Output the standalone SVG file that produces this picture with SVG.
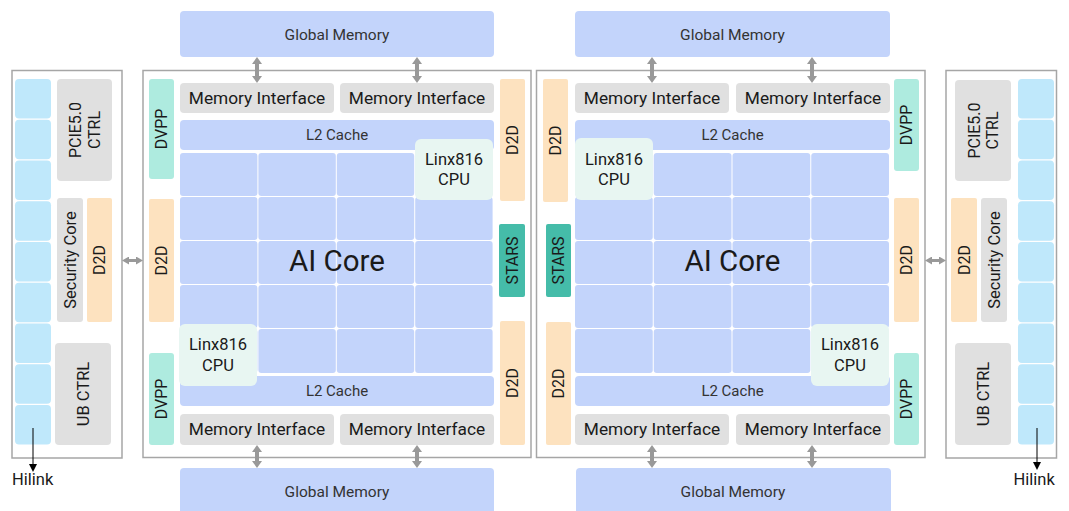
<svg xmlns="http://www.w3.org/2000/svg" width="1069" height="511" viewBox="0 0 1069 511">
  <defs>
    <style>
      text { font-family: Roboto, "Noto Sans", "DejaVu Sans", sans-serif; fill: #1a1a1a; text-anchor: middle; }
      .die { fill: #ffffff; stroke: #a6a6a6; stroke-width: 1.5; }
      .blue { fill: #c3d4fb; }
      .gray { fill: #e0e0e0; }
      .dvpp { fill: #aeebdf; }
      .d2d { fill: #fde2bf; }
      .stars { fill: #45bca9; }
      .cpu { fill: #e8f6f2; }
      .hl { fill: #bfe8fb; }
      .t-gm { font-size: 15.5px; fill: #333333; }
      .t-l2 { font-size: 15px; fill: #333333; }
      .t-mi { font-size: 17.3px; }
      .t-cpu { font-size: 16.5px; }
      .t-ai { font-size: 29.5px; }
      .t-v { font-size: 16px; }
      .t-io { font-size: 16.5px; }
      .t-hl { font-size: 16.5px; text-anchor: start; }
      .bus { stroke: #999999; stroke-width: 4; fill: none; marker-start: url(#busHead); marker-end: url(#busHead); }
      .bus-s { stroke: #999999; stroke-width: 3; fill: none; marker-start: url(#busHeadS); marker-end: url(#busHeadS); }
      .link { stroke: #000000; stroke-width: 1; fill: none; marker-end: url(#linkHead); }
    </style>
    <marker id="busHead" markerUnits="userSpaceOnUse" markerWidth="7" markerHeight="10" viewBox="0 0 7 10" refX="0" refY="5" orient="auto-start-reverse">
      <path d="M0,0 L7,5 L0,10 z" fill="#999999"/>
    </marker>
    <marker id="busHeadS" markerUnits="userSpaceOnUse" markerWidth="7" markerHeight="8" viewBox="0 0 7 8" refX="0" refY="4" orient="auto-start-reverse">
      <path d="M0,0 L7,4 L0,8 z" fill="#999999"/>
    </marker>
    <marker id="linkHead" markerUnits="userSpaceOnUse" markerWidth="8" markerHeight="8" viewBox="0 0 8 8" refX="0" refY="4" orient="auto">
      <path d="M0,0 L8,4 L0,8 z" fill="#000000"/>
    </marker>
  </defs>

  <!-- ===== Left IO die ===== -->
  <g id="io-left">
    <rect class="die" x="12" y="70.5" width="110" height="387.5"/>
    <g id="io-left-hilink">
      <rect class="hl" x="15" y="79" width="36" height="39.5" rx="4"/>
      <rect class="hl" x="15" y="119.75" width="36" height="39.5" rx="4"/>
      <rect class="hl" x="15" y="160.5" width="36" height="39.5" rx="4"/>
      <rect class="hl" x="15" y="201.25" width="36" height="39.5" rx="4"/>
      <rect class="hl" x="15" y="242" width="36" height="39.5" rx="4"/>
      <rect class="hl" x="15" y="282.75" width="36" height="39.5" rx="4"/>
      <rect class="hl" x="15" y="323.5" width="36" height="39.5" rx="4"/>
      <rect class="hl" x="15" y="364.25" width="36" height="39.5" rx="4"/>
      <rect class="hl" x="15" y="405" width="36" height="39.5" rx="4"/>
    </g>
    <g id="io-left-pcie">
      <rect class="gray" x="57" y="79" width="55" height="102" rx="4"/>
      <text class="t-v" transform="translate(84.5,130) rotate(-90)" y="-3.5">PCIE5.0</text>
      <text class="t-v" transform="translate(84.5,130) rotate(-90)" y="15">CTRL</text>
    </g>
    <g id="io-left-security">
      <rect class="gray" x="57" y="198" width="26" height="124" rx="3"/>
      <text class="t-io" transform="translate(70,260) rotate(-90)" y="5.5">Security Core</text>
    </g>
    <g id="io-left-d2d">
      <rect class="d2d" x="87" y="198" width="25" height="124" rx="2"/>
      <text class="t-v" transform="translate(99.5,260) rotate(-90)" y="5.7">D2D</text>
    </g>
    <g id="io-left-ub">
      <rect class="gray" x="55" y="343" width="56" height="102" rx="4"/>
      <text class="t-io" transform="translate(83,394) rotate(-90)" y="5.9">UB CTRL</text>
    </g>
    <text class="t-hl" x="12" y="485">Hilink</text>
  </g>

  <!-- ===== Left compute die ===== -->
  <g id="die-left">
    <rect class="die" x="143" y="70.5" width="388" height="387"/>
  </g>
  <g id="gm-left-top">
    <rect class="blue" x="180" y="11" width="314" height="46" rx="4"/>
    <text class="t-gm" x="337" y="39.5">Global Memory</text>
  </g>
  <g id="gm-left-bottom">
    <rect class="blue" x="180" y="468" width="314" height="48" rx="4"/>
    <text class="t-gm" x="337" y="496.5">Global Memory</text>
  </g>
  <g id="mi-left-top-1">
    <rect class="gray" x="180" y="83" width="154" height="30" rx="4"/>
    <text class="t-mi" x="257" y="104.3">Memory Interface</text>
  </g>
  <g id="mi-left-top-2">
    <rect class="gray" x="340" y="83" width="154" height="30" rx="4"/>
    <text class="t-mi" x="417" y="104.3">Memory Interface</text>
  </g>
  <g id="l2-left-top">
    <rect class="blue" x="180" y="120" width="314" height="30" rx="4"/>
    <text class="t-l2" x="337" y="140.3">L2 Cache</text>
  </g>
  <g id="aicore-left">
    <rect class="blue" x="180" y="153" width="77.4" height="43" rx="3"/>
    <rect class="blue" x="258.4" y="153" width="77.4" height="43" rx="3"/>
    <rect class="blue" x="336.8" y="153" width="77.4" height="43" rx="3"/>
    <rect class="blue" x="415.2" y="153" width="77.4" height="43" rx="3"/>
    <rect class="blue" x="180" y="197" width="77.4" height="43" rx="3"/>
    <rect class="blue" x="258.4" y="197" width="77.4" height="43" rx="3"/>
    <rect class="blue" x="336.8" y="197" width="77.4" height="43" rx="3"/>
    <rect class="blue" x="415.2" y="197" width="77.4" height="43" rx="3"/>
    <rect class="blue" x="180" y="241" width="77.4" height="43" rx="3"/>
    <rect class="blue" x="258.4" y="241" width="77.4" height="43" rx="3"/>
    <rect class="blue" x="336.8" y="241" width="77.4" height="43" rx="3"/>
    <rect class="blue" x="415.2" y="241" width="77.4" height="43" rx="3"/>
    <rect class="blue" x="180" y="285" width="77.4" height="43" rx="3"/>
    <rect class="blue" x="258.4" y="285" width="77.4" height="43" rx="3"/>
    <rect class="blue" x="336.8" y="285" width="77.4" height="43" rx="3"/>
    <rect class="blue" x="415.2" y="285" width="77.4" height="43" rx="3"/>
    <rect class="blue" x="180" y="329" width="77.4" height="44" rx="3"/>
    <rect class="blue" x="258.4" y="329" width="77.4" height="44" rx="3"/>
    <rect class="blue" x="336.8" y="329" width="77.4" height="44" rx="3"/>
    <rect class="blue" x="415.2" y="329" width="77.4" height="44" rx="3"/>
    <text class="t-ai" x="337" y="271">AI Core</text>
  </g>
  <g id="l2-left-bottom">
    <rect class="blue" x="180" y="376" width="314" height="30" rx="4"/>
    <text class="t-l2" x="337" y="396.3">L2 Cache</text>
  </g>
  <g id="mi-left-bottom-1">
    <rect class="gray" x="180" y="414" width="154" height="31" rx="4"/>
    <text class="t-mi" x="257" y="435.3">Memory Interface</text>
  </g>
  <g id="mi-left-bottom-2">
    <rect class="gray" x="340" y="414" width="154" height="31" rx="4"/>
    <text class="t-mi" x="417" y="435.3">Memory Interface</text>
  </g>
  <g id="cpu-left-top">
    <rect class="cpu" x="415" y="139" width="78" height="61" rx="6"/>
    <text class="t-cpu" x="454" y="165">Linx816</text>
    <text class="t-cpu" x="454" y="185">CPU</text>
  </g>
  <g id="cpu-left-bottom">
    <rect class="cpu" x="179" y="324" width="78" height="62" rx="6"/>
    <text class="t-cpu" x="218" y="350">Linx816</text>
    <text class="t-cpu" x="218" y="370.5">CPU</text>
  </g>
  <g id="dvpp-left-top">
    <rect class="dvpp" x="149" y="79" width="25" height="100" rx="3"/>
    <text class="t-v" transform="translate(161.5,129) rotate(-90)" y="5.7">DVPP</text>
  </g>
  <g id="d2d-left-west">
    <rect class="d2d" x="149" y="199" width="25" height="123" rx="2"/>
    <text class="t-v" transform="translate(161.5,260.5) rotate(-90)" y="5.7">D2D</text>
  </g>
  <g id="dvpp-left-bottom">
    <rect class="dvpp" x="149" y="353" width="25" height="92" rx="3"/>
    <text class="t-v" transform="translate(161.5,399) rotate(-90)" y="5.7">DVPP</text>
  </g>
  <g id="d2d-left-east-top">
    <rect class="d2d" x="500" y="79" width="25" height="122" rx="2"/>
    <text class="t-v" transform="translate(512.5,140) rotate(-90)" y="5.7">D2D</text>
  </g>
  <g id="stars-left">
    <rect class="stars" x="499" y="224" width="26" height="73" rx="2"/>
    <text class="t-v" transform="translate(512,260.5) rotate(-90)" y="5.7">STARS</text>
  </g>
  <g id="d2d-left-east-bottom">
    <rect class="d2d" x="500" y="321" width="25" height="124" rx="2"/>
    <text class="t-v" transform="translate(512.5,383) rotate(-90)" y="5.7">D2D</text>
  </g>

  <!-- ===== Right compute die ===== -->
  <g id="die-right">
    <rect class="die" x="536.5" y="70.5" width="388.5" height="387"/>
  </g>
  <g id="gm-right-top">
    <rect class="blue" x="575" y="11" width="315" height="46" rx="4"/>
    <text class="t-gm" x="732.5" y="39.5">Global Memory</text>
  </g>
  <g id="gm-right-bottom">
    <rect class="blue" x="576" y="468" width="315" height="48" rx="4"/>
    <text class="t-gm" x="733" y="496.5">Global Memory</text>
  </g>
  <g id="mi-right-top-1">
    <rect class="gray" x="575" y="83" width="154" height="30" rx="4"/>
    <text class="t-mi" x="652" y="104.3">Memory Interface</text>
  </g>
  <g id="mi-right-top-2">
    <rect class="gray" x="736" y="83" width="154" height="30" rx="4"/>
    <text class="t-mi" x="813" y="104.3">Memory Interface</text>
  </g>
  <g id="l2-right-top">
    <rect class="blue" x="575" y="120" width="315" height="30" rx="4"/>
    <text class="t-l2" x="732.5" y="140.3">L2 Cache</text>
  </g>
  <g id="aicore-right">
    <rect class="blue" x="575" y="153" width="77.75" height="43" rx="3"/>
    <rect class="blue" x="653.75" y="153" width="77.75" height="43" rx="3"/>
    <rect class="blue" x="732.5" y="153" width="77.75" height="43" rx="3"/>
    <rect class="blue" x="811.25" y="153" width="77.75" height="43" rx="3"/>
    <rect class="blue" x="575" y="197" width="77.75" height="43" rx="3"/>
    <rect class="blue" x="653.75" y="197" width="77.75" height="43" rx="3"/>
    <rect class="blue" x="732.5" y="197" width="77.75" height="43" rx="3"/>
    <rect class="blue" x="811.25" y="197" width="77.75" height="43" rx="3"/>
    <rect class="blue" x="575" y="241" width="77.75" height="43" rx="3"/>
    <rect class="blue" x="653.75" y="241" width="77.75" height="43" rx="3"/>
    <rect class="blue" x="732.5" y="241" width="77.75" height="43" rx="3"/>
    <rect class="blue" x="811.25" y="241" width="77.75" height="43" rx="3"/>
    <rect class="blue" x="575" y="285" width="77.75" height="43" rx="3"/>
    <rect class="blue" x="653.75" y="285" width="77.75" height="43" rx="3"/>
    <rect class="blue" x="732.5" y="285" width="77.75" height="43" rx="3"/>
    <rect class="blue" x="811.25" y="285" width="77.75" height="43" rx="3"/>
    <rect class="blue" x="575" y="329" width="77.75" height="44" rx="3"/>
    <rect class="blue" x="653.75" y="329" width="77.75" height="44" rx="3"/>
    <rect class="blue" x="732.5" y="329" width="77.75" height="44" rx="3"/>
    <rect class="blue" x="811.25" y="329" width="77.75" height="44" rx="3"/>
    <text class="t-ai" x="732.5" y="271">AI Core</text>
  </g>
  <g id="l2-right-bottom">
    <rect class="blue" x="575" y="376" width="315" height="30" rx="4"/>
    <text class="t-l2" x="732.5" y="396.3">L2 Cache</text>
  </g>
  <g id="mi-right-bottom-1">
    <rect class="gray" x="575" y="414" width="154" height="31" rx="4"/>
    <text class="t-mi" x="652" y="435.3">Memory Interface</text>
  </g>
  <g id="mi-right-bottom-2">
    <rect class="gray" x="736" y="414" width="154" height="31" rx="4"/>
    <text class="t-mi" x="813" y="435.3">Memory Interface</text>
  </g>
  <g id="cpu-right-top">
    <rect class="cpu" x="575" y="138" width="78" height="62" rx="6"/>
    <text class="t-cpu" x="614" y="165">Linx816</text>
    <text class="t-cpu" x="614" y="185">CPU</text>
  </g>
  <g id="cpu-right-bottom">
    <rect class="cpu" x="811" y="324" width="78" height="62" rx="6"/>
    <text class="t-cpu" x="850" y="350">Linx816</text>
    <text class="t-cpu" x="850" y="370.5">CPU</text>
  </g>
  <g id="d2d-right-west-top">
    <rect class="d2d" x="543" y="79" width="25" height="123" rx="2"/>
    <text class="t-v" transform="translate(555.5,140.5) rotate(-90)" y="5.7">D2D</text>
  </g>
  <g id="stars-right">
    <rect class="stars" x="546" y="224" width="25" height="73" rx="2"/>
    <text class="t-v" transform="translate(558.5,260.5) rotate(-90)" y="5.7">STARS</text>
  </g>
  <g id="d2d-right-west-bottom">
    <rect class="d2d" x="546" y="322" width="25" height="123" rx="2"/>
    <text class="t-v" transform="translate(558.5,383.5) rotate(-90)" y="5.7">D2D</text>
  </g>
  <g id="dvpp-right-top">
    <rect class="dvpp" x="894" y="79" width="25" height="92" rx="3"/>
    <text class="t-v" transform="translate(906.5,125) rotate(-90)" y="5.7">DVPP</text>
  </g>
  <g id="d2d-right-east">
    <rect class="d2d" x="894" y="198" width="25" height="124" rx="2"/>
    <text class="t-v" transform="translate(906.5,260) rotate(-90)" y="5.7">D2D</text>
  </g>
  <g id="dvpp-right-bottom">
    <rect class="dvpp" x="894" y="353" width="25" height="92" rx="3"/>
    <text class="t-v" transform="translate(906.5,399) rotate(-90)" y="5.7">DVPP</text>
  </g>

  <!-- ===== Right IO die ===== -->
  <g id="io-right">
    <rect class="die" x="946" y="70.5" width="110.5" height="387.5"/>
    <g id="io-right-hilink">
      <rect class="hl" x="1018" y="79" width="36" height="39.5" rx="4"/>
      <rect class="hl" x="1018" y="119.75" width="36" height="39.5" rx="4"/>
      <rect class="hl" x="1018" y="160.5" width="36" height="39.5" rx="4"/>
      <rect class="hl" x="1018" y="201.25" width="36" height="39.5" rx="4"/>
      <rect class="hl" x="1018" y="242" width="36" height="39.5" rx="4"/>
      <rect class="hl" x="1018" y="282.75" width="36" height="39.5" rx="4"/>
      <rect class="hl" x="1018" y="323.5" width="36" height="39.5" rx="4"/>
      <rect class="hl" x="1018" y="364.25" width="36" height="39.5" rx="4"/>
      <rect class="hl" x="1018" y="405" width="36" height="39.5" rx="4"/>
    </g>
    <g id="io-right-pcie">
      <rect class="gray" x="955" y="80" width="56" height="101" rx="4"/>
      <text class="t-v" transform="translate(983,130.5) rotate(-90)" y="-3.5">PCIE5.0</text>
      <text class="t-v" transform="translate(983,130.5) rotate(-90)" y="15">CTRL</text>
    </g>
    <g id="io-right-d2d">
      <rect class="d2d" x="951" y="198" width="26" height="124" rx="2"/>
      <text class="t-v" transform="translate(964,260) rotate(-90)" y="5.7">D2D</text>
    </g>
    <g id="io-right-security">
      <rect class="gray" x="981" y="198" width="26" height="124" rx="3"/>
      <text class="t-io" transform="translate(994,260) rotate(-90)" y="5.5">Security Core</text>
    </g>
    <g id="io-right-ub">
      <rect class="gray" x="955" y="343" width="56" height="102" rx="4"/>
      <text class="t-io" transform="translate(983,394) rotate(-90)" y="5.9">UB CTRL</text>
    </g>
    <text class="t-hl" x="1013.5" y="485">Hilink</text>
  </g>

  <!-- ===== Connectors ===== -->
  <g id="connectors">
    <!-- memory buses -->
    <line class="bus" x1="257" y1="64" x2="257" y2="76"/>
    <line class="bus" x1="417" y1="64" x2="417" y2="76"/>
    <line class="bus" x1="257" y1="452" x2="257" y2="461"/>
    <line class="bus" x1="417" y1="452" x2="417" y2="461"/>
    <line class="bus" x1="652" y1="64" x2="652" y2="76"/>
    <line class="bus" x1="812" y1="64" x2="812" y2="76"/>
    <line class="bus" x1="652" y1="452" x2="652" y2="461"/>
    <line class="bus" x1="812" y1="452" x2="812" y2="461"/>
    <!-- die-to-die links -->
    <line class="bus-s" x1="129" y1="260.5" x2="136" y2="260.5"/>
    <line class="bus-s" x1="932" y1="260.5" x2="939" y2="260.5"/>
    <!-- Hilink outputs -->
    <line class="link" x1="33" y1="428" x2="33" y2="464"/>
    <line class="link" x1="1037" y1="428" x2="1037" y2="462"/>
  </g>
</svg>
